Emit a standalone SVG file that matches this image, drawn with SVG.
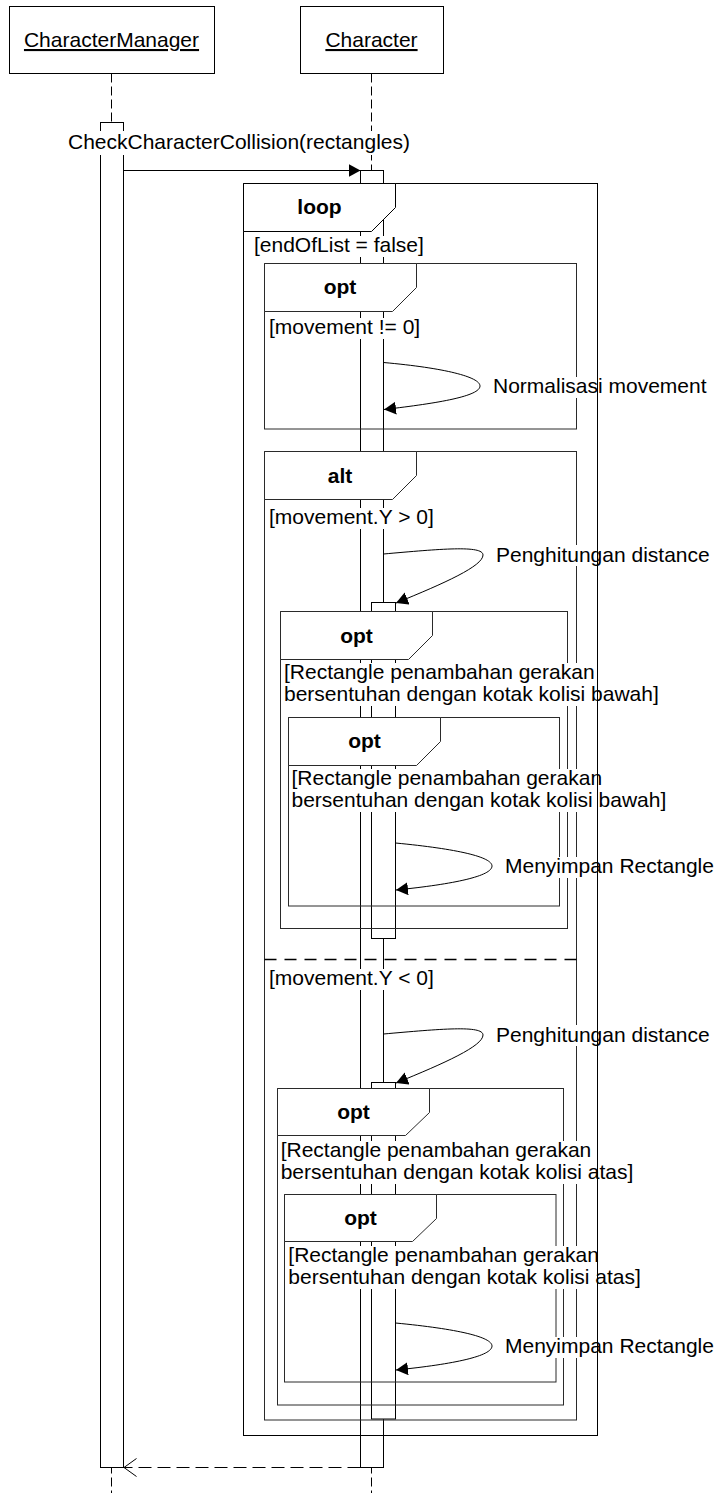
<svg xmlns="http://www.w3.org/2000/svg" width="720" height="1493" viewBox="0 0 720 1493">
<style>
text{font-family:"Liberation Sans",Arial,sans-serif;font-size:21px;fill:#000}
.hdr{font-weight:bold;text-anchor:middle}
.mid{text-anchor:middle}
.box{fill:#fff;stroke:#000;stroke-width:1}
.life{fill:none;stroke:#000;stroke-width:1;stroke-dasharray:9 4}
.act{fill:#fff;stroke:#000;stroke-width:1}
.frame{fill:none;stroke:#2a2a2a;stroke-width:1}
.head{fill:#fff;stroke:#2a2a2a;stroke-width:1}
.outer{fill:none;stroke:#000;stroke-width:1}
.outerhead{fill:#fff;stroke:#000;stroke-width:1}
.sep{fill:none;stroke:#000;stroke-width:1.3;stroke-dasharray:12 8}
.bg{fill:#fff}
.msg{fill:none;stroke:#000;stroke-width:1}
.ret{fill:none;stroke:#000;stroke-width:1;stroke-dasharray:13 6}
</style>
<defs>
<marker id="arr" markerUnits="userSpaceOnUse" markerWidth="13" markerHeight="14" refX="12" refY="6.5" orient="auto">
<path d="M0,0 L12,6.5 L0,13 z" fill="#000"/>
</marker>
<marker id="open" markerUnits="userSpaceOnUse" markerWidth="14" markerHeight="20" refX="13" refY="9.5" orient="auto">
<path d="M0.5,0.5 L13,9.5 L0.5,18.5" fill="none" stroke="#000" stroke-width="1"/>
</marker>
</defs>

<g id="CharacterManager">
<line class="life" x1="111.5" y1="73.5" x2="111.5" y2="1493"/>
<rect class="box" x="9.5" y="6.5" width="205" height="67"/>
<text class="mid" x="111.5" y="47" text-decoration="underline">CharacterManager</text>
<rect class="act" x="100.5" y="122.5" width="23" height="1345"/>
</g>

<g id="Character">
<line class="life" x1="371.5" y1="73.5" x2="371.5" y2="1493"/>
<rect class="box" x="300.5" y="6.5" width="143" height="67"/>
<text class="mid" x="371.5" y="47" text-decoration="underline">Character</text>
<rect class="act" x="360.5" y="170.5" width="23" height="1297"/>
<rect class="act" x="371.5" y="602.5" width="24" height="336"/>
<rect class="act" x="371.5" y="1082.5" width="24" height="336.5"/>
</g>

<g id="opt-movement">
<rect class="frame" x="264.5" y="263.5" width="312" height="165.5"/>
<path class="head" d="M264.5,263.5 H416.5 V287.5 L392.5,311.5 H264.5 Z"/>
<text class="hdr" x="340" y="294">opt</text>
<rect class="bg" x="268" y="318" width="154" height="21"/>
<text x="269" y="333.5">[movement != 0]</text>
</g>

<g id="alt-movementY">
<rect class="frame" x="264.5" y="451.5" width="312" height="968.5"/>
<path class="head" d="M264.5,451.5 H416.5 V475.5 L392.5,499.5 H264.5 Z"/>
<text class="hdr" x="340" y="483">alt</text>
<rect class="bg" x="268" y="508" width="168" height="21"/>
<text x="269" y="523.5">[movement.Y &gt; 0]</text>
<line class="sep" x1="264.5" y1="959.5" x2="576.5" y2="959.5"/>
<rect class="bg" x="268" y="969" width="168" height="21"/>
<text x="269" y="985">[movement.Y &lt; 0]</text>
</g>

<g id="opt-bawah-outer">
<rect class="frame" x="280.5" y="611.5" width="287" height="317"/>
<path class="head" d="M280.5,611.5 H432.5 V635.5 L408.5,659.5 H280.5 Z"/>
<text class="hdr" x="356.5" y="643">opt</text>
<rect class="bg" x="283" y="663" width="381" height="43"/>
<text x="284" y="679">[Rectangle penambahan gerakan</text>
<text x="284" y="701">bersentuhan dengan kotak kolisi bawah]</text>
</g>

<g id="opt-bawah-inner">
<rect class="frame" x="288.5" y="717.5" width="271" height="188.5"/>
<path class="head" d="M288.5,717.5 H440.5 V741.5 L416.5,765.5 H288.5 Z"/>
<text class="hdr" x="364.5" y="748">opt</text>
<rect class="bg" x="290" y="769" width="381" height="43"/>
<text x="291.5" y="785">[Rectangle penambahan gerakan</text>
<text x="291.5" y="807">bersentuhan dengan kotak kolisi bawah]</text>
</g>

<g id="opt-atas-outer">
<rect class="frame" x="277.5" y="1088.5" width="286" height="316.5"/>
<path class="head" d="M277.5,1088.5 H429.5 V1112.5 L405.5,1135.5 H277.5 Z"/>
<text class="hdr" x="353.5" y="1118.5">opt</text>
<rect class="bg" x="279" y="1141" width="360" height="43"/>
<text x="280.7" y="1157">[Rectangle penambahan gerakan</text>
<text x="280.7" y="1179">bersentuhan dengan kotak kolisi atas]</text>
</g>

<g id="opt-atas-inner">
<rect class="frame" x="284.5" y="1194.5" width="271.5" height="187.5"/>
<path class="head" d="M284.5,1194.5 H436.5 V1218.5 L412.5,1241.5 H284.5 Z"/>
<text class="hdr" x="360.5" y="1224.5">opt</text>
<rect class="bg" x="287" y="1246" width="360" height="43"/>
<text x="288.3" y="1262">[Rectangle penambahan gerakan</text>
<text x="288.3" y="1284">bersentuhan dengan kotak kolisi atas]</text>
</g>

<g id="connectors">
<line class="msg" x1="123.5" y1="170.5" x2="360.5" y2="170.5" marker-end="url(#arr)"/>
<rect class="bg" x="66" y="131" width="349" height="24"/>
<text x="68" y="149">CheckCharacterCollision(rectangles)</text>

<path class="msg" d="M383.5,362.5 C445,368 480,377 480,386 C480,396 440,403 384,409.5" marker-end="url(#arr)"/>
<rect class="bg" x="492" y="377" width="212" height="21"/>
<text x="493" y="393">Normalisasi movement</text>

<path class="msg" d="M383.5,554 C440,549 483,545 483,555 C483,566 445,583 396,603" marker-end="url(#arr)"/>
<rect class="bg" x="495" y="545" width="218" height="21"/>
<text x="496" y="561.5">Penghitungan distance</text>

<path class="msg" d="M395.5,843 C458,849 492,857 492,866 C492,876 455,884 396,890" marker-end="url(#arr)"/>
<rect class="bg" x="504" y="857" width="213" height="21"/>
<text x="505" y="873">Menyimpan Rectangle</text>

<path class="msg" d="M383.5,1034 C440,1029 483,1025 483,1035 C483,1046 445,1063 396,1083" marker-end="url(#arr)"/>
<rect class="bg" x="495" y="1025" width="218" height="21"/>
<text x="496" y="1042">Penghitungan distance</text>

<path class="msg" d="M395.5,1323 C458,1329 492,1337 492,1346 C492,1356 455,1364 396,1370" marker-end="url(#arr)"/>
<rect class="bg" x="504" y="1337" width="213" height="21"/>
<text x="505" y="1353">Menyimpan Rectangle</text>

<line class="ret" x1="360.5" y1="1467.5" x2="124" y2="1467.5" marker-end="url(#open)"/>
</g>

<g id="loop-endOfList">
<rect class="outer" x="243.5" y="183.5" width="354" height="1252"/>
<path class="outerhead" d="M243.5,183.5 H395.5 V207.5 L371.5,231.5 H243.5 Z"/>
<text class="hdr" x="319.5" y="214">loop</text>
<rect class="bg" x="253" y="236" width="173" height="21"/>
<text x="254" y="252">[endOfList = false]</text>
<line class="outer" x1="597.5" y1="183.5" x2="597.5" y2="1435.5"/>
</g>
</svg>
